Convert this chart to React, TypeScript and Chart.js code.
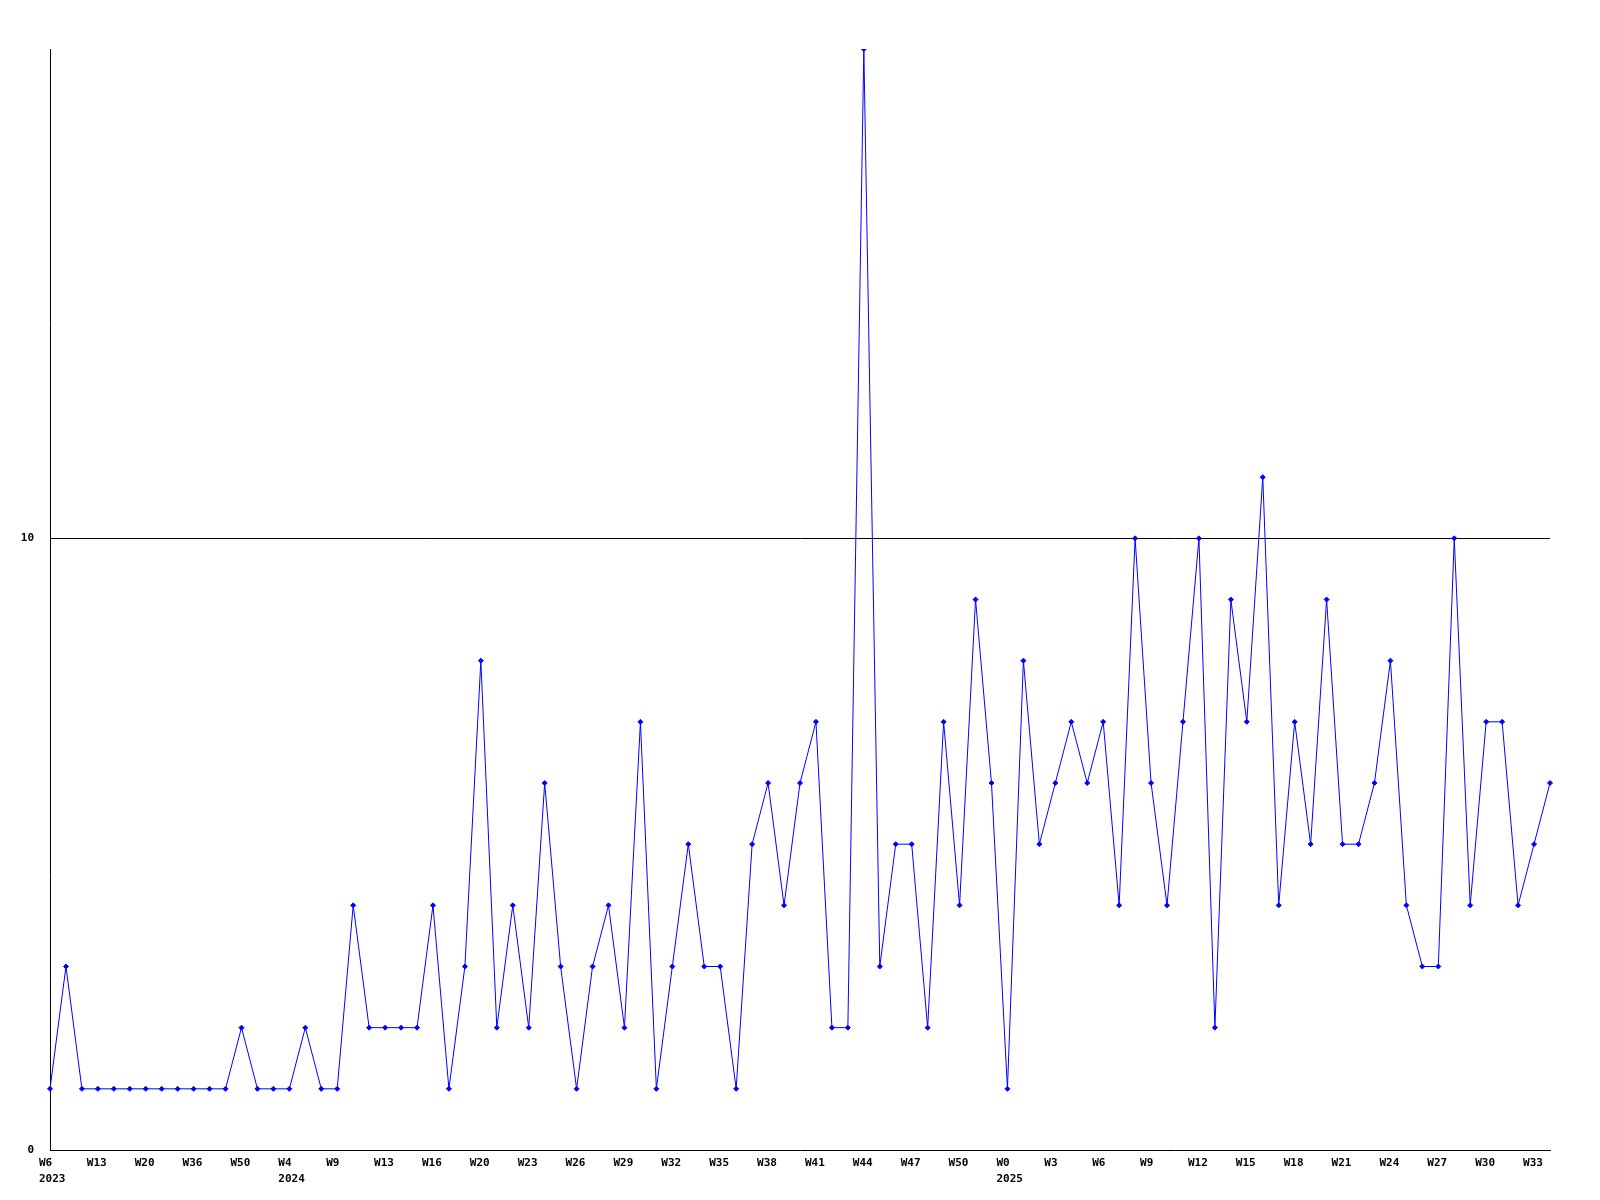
import React, { useEffect, useRef } from "react";
import { Chart, registerables } from "chart.js";

Chart.register(...registerables);

// Weekly counts, one per point (left to right)
const values: number[] = [
  1, 3, 1, 1, 1, 1, 1, 1, 1, 1, 1, 1,
  2, 1, 1, 1, 2, 1, 1,
  4, 2, 2, 2, 2, 4, 1, 3,
  8, 2, 4, 2, 6, 3, 1, 3,
  4, 2, 7, 1, 3, 5, 3, 3,
  1, 5, 6, 4, 6, 7, 2, 2,
  18, 3, 5, 5, 2, 7, 4, 9,
  6, 1, 8, 5, 6, 7, 6, 7,
  4, 10, 6, 4, 7, 10, 2, 9,
  7, 11, 4, 7, 5, 9, 5, 5,
  6, 8, 4, 3, 3, 10, 4, 7,
  7, 4, 5, 6,
];

// Week tick labels, shown on every third point
const tickLabels: string[] = [
  "W6", "W13", "W20", "W36", "W50", "W4", "W9", "W13", "W16", "W20", "W23",
  "W26", "W29", "W32", "W35", "W38", "W41", "W44", "W47", "W50", "W0", "W3",
  "W6", "W9", "W12", "W15", "W18", "W21", "W24", "W27", "W30", "W33",
];
const tickStep = 3;

// Year sub-labels, attached to the given tick label positions
const yearTickPositions: number[] = [0, 5, 20];
const yearLabels: string[] = ["2023", "2024", "2025"];

const yTickValues: number[] = [0, 10];
const yMax = 18;

const FONT = "'DejaVu Sans Mono', 'Liberation Mono', monospace";

export default function App() {
  const ref = useRef<HTMLCanvasElement | null>(null);

  useEffect(() => {
    const canvas = ref.current;
    if (!canvas) return;
    const categories = values.map((_, i) => String(i));
    const chart = new Chart(canvas, {
      type: "line",
      data: {
        labels: categories,
        datasets: [
          {
            data: values,
            borderColor: "#0000ff",
            backgroundColor: "#0000ff",
            borderWidth: 1,
            pointStyle: "rectRot",
            pointRadius: 2.5,
            pointBorderWidth: 1,
            pointBackgroundColor: "#0000ff",
            pointBorderColor: "#0000ff",
            tension: 0,
            fill: false,
          },
        ],
      },
      options: {
        responsive: false,
        animation: false,
        events: [],
        layout: { padding: { top: 49, right: 50, left: 0, bottom: 0 } },
        plugins: {
          legend: { display: false },
          tooltip: { enabled: false },
        },
        scales: {
          x: {
            type: "category",
            offset: false,
            grid: { display: true, color: "rgba(0,0,0,0)", drawTicks: false },
            border: { display: true, color: "#000000", width: 1 },
            ticks: {
              autoSkip: false,
              maxRotation: 0,
              minRotation: 0,
              align: "start",
              labelOffset: -11,
              padding: 5,
              color: "#000000",
              font: { family: FONT, size: 11, weight: "bold", lineHeight: "16px" },
              callback: (_v: any, index: number) => {
                if (index % tickStep !== 0) return "";
                const k = index / tickStep;
                const lbl = tickLabels[k];
                if (lbl === undefined) return "";
                const y = yearTickPositions.indexOf(k);
                return y >= 0 ? [lbl, yearLabels[y]] : lbl;
              },
            },
            afterFit: (scale: any) => {
              scale.height = 50;
            },
          },
          y: {
            min: 0,
            max: yMax,
            grid: {
              display: true,
              drawTicks: false,
              color: (ctx: any) =>
                ctx.tick && ctx.tick.value === 10 ? "#000000" : "rgba(0,0,0,0)",
              lineWidth: 1,
            },
            border: { display: true, color: "#000000", width: 1 },
            afterBuildTicks: (scale: any) => {
              scale.ticks = yTickValues.map((v) => ({ value: v }));
            },
            ticks: {
              padding: 16,
              color: "#000000",
              font: { family: FONT, size: 11, weight: "bold" },
              callback: (v: any) => String(v),
            },
            afterFit: (scale: any) => {
              scale.width = 50;
            },
          },
        },
      },
    });
    return () => chart.destroy();
  }, []);

  return (
    <div
      style={{
        position: "fixed",
        left: 0,
        top: 0,
        width: 1600,
        height: 1200,
        background: "#ffffff",
      }}
    >
      <canvas ref={ref} width={1600} height={1200} style={{ width: 1600, height: 1200 }} />
    </div>
  );
}
